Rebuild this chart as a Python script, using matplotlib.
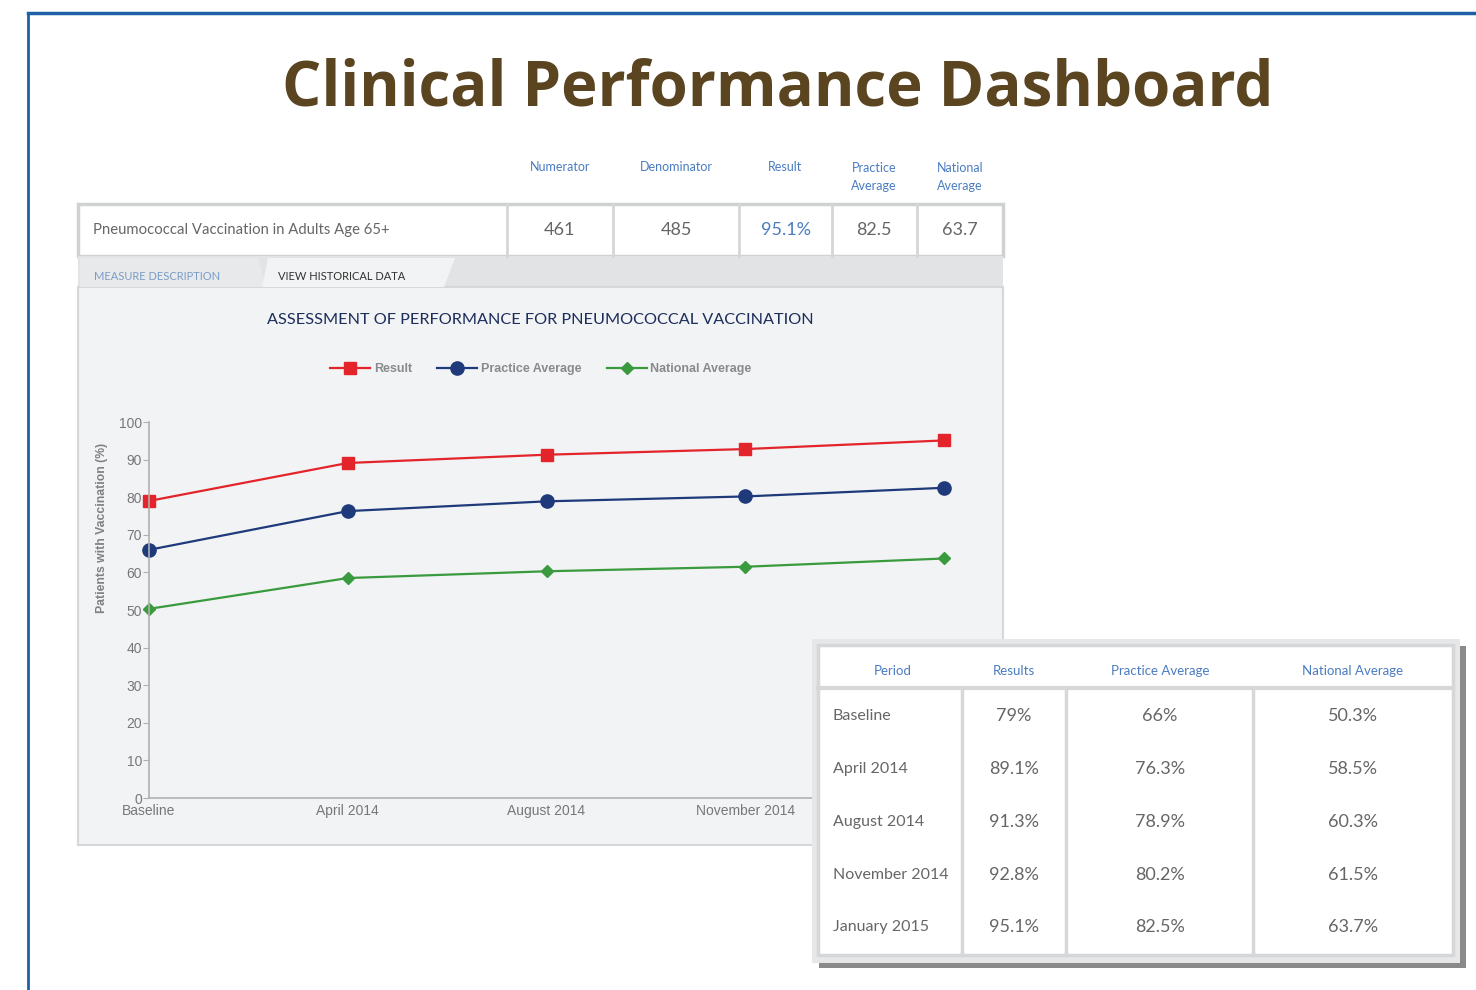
import matplotlib
matplotlib.use('Agg')
import matplotlib.pyplot as plt
from matplotlib.patches import Rectangle, Polygon

# Data
periods = ['Baseline', 'April 2014', 'August 2014', 'November 2014', 'January 2015']
result = [79, 89.1, 91.3, 92.8, 95.1]
practice_avg = [66, 76.3, 78.9, 80.2, 82.5]
national_avg = [50.3, 58.5, 60.3, 61.5, 63.7]

summary_headers = ['Numerator', 'Denominator', 'Result', 'Practice\nAverage', 'National\nAverage']
summary_values = ['461', '485', '95.1%', '82.5', '63.7']
measure_name = 'Pneumococcal Vaccination in Adults Age 65+'
table_headers = ['Period', 'Results', 'Practice Average', 'National Average']

W, H = 1476, 990
UI_FONT = 'Lato'
CHART_FONT = 'Liberation Sans'
BLUE_TXT = '#4a7cc0'
GRAY_TXT = '#666666'

fig = plt.figure(figsize=(W / 100, H / 100), dpi=100)
fig.patch.set_facecolor('white')

# background layer in pixel coordinates
bg = fig.add_axes([0, 0, 1, 1], zorder=0)
bg.set_xlim(0, W)
bg.set_ylim(H, 0)
bg.axis('off')

# outer slide frame
bg.plot([28, W], [13, 13], color='#1f5fa8', lw=2.5)
bg.plot([28, 28], [13, H], color='#1f5fa8', lw=2)

bg.text(778, 106, 'Clinical Performance Dashboard', ha='center', va='baseline',
        fontsize=44.5, fontweight='bold', color='#5a4520', family='Open Sans')

# summary header labels
header_x = [560, 676, 785, 874, 960]
for x, lab in zip(header_x, summary_headers):
    bg.text(x, 167 if '\n' not in lab else 177, lab, ha='center', va='center', fontsize=9,
            color=BLUE_TXT, family=UI_FONT, linespacing=1.6)

# summary row
bg.add_patch(Rectangle((78, 204), 925, 52, facecolor='white', edgecolor='#d0d1d2', lw=2.5))
for x in [507, 613, 739, 832, 917]:
    bg.plot([x, x], [204, 256], color='#d5d6d7', lw=2)
bg.text(93, 230, measure_name, ha='left', va='center', fontsize=10.7, color=GRAY_TXT, family=UI_FONT)
val_x = [559, 676, 786, 874, 960]
for i, (x, v) in enumerate(zip(val_x, summary_values)):
    bg.text(x, 230, v, ha='center', va='center', fontsize=13,
            color=BLUE_TXT if i == 2 else GRAY_TXT, family=UI_FONT)

# tabs strip and chart panel
bg.add_patch(Rectangle((78, 256), 925, 31, facecolor='#e2e3e4', edgecolor='none'))
bg.add_patch(Rectangle((78, 287), 925, 558, facecolor='#f2f3f4', edgecolor='#d6d7d8', lw=1.5))
bg.add_patch(Polygon([(80, 287), (80, 258), (258, 258), (266, 287)], closed=True,
                     facecolor='#e8e9ea', edgecolor='none'))
bg.add_patch(Polygon([(262, 287), (268, 258), (455, 258), (444, 287)], closed=True,
                     facecolor='#f2f3f4', edgecolor='none'))
bg.text(94, 276, 'MEASURE DESCRIPTION', ha='left', va='center', fontsize=8,
        color='#7a9cc8', family=UI_FONT)
bg.text(278, 276, 'VIEW HISTORICAL DATA', ha='left', va='center', fontsize=8,
        color='#333333', family=UI_FONT)

bg.text(540, 320, 'ASSESSMENT OF PERFORMANCE FOR PNEUMOCOCCAL VACCINATION', ha='center',
        va='center', fontsize=11.7, color='#1d2d5c', family=UI_FONT)
bg.text(102, 528, 'Patients with Vaccination (%)', ha='center', va='center', rotation=90,
        fontsize=8.8, fontweight='bold', color='#808080', family=CHART_FONT)

# line chart
x0, x1 = 149, 994
yb, yt = 798, 422
ax = fig.add_axes([x0 / W, 1 - yb / H, (x1 - x0) / W, (yb - yt) / H], zorder=1)
ax.patch.set_visible(False)
xs = list(range(len(periods)))
ax.plot(xs, result, color='#e3242b', lw=1.6, marker='s', ms=9, clip_on=False, label='Result')
ax.plot(xs, practice_avg, color='#1f3a7a', lw=1.6, marker='o', ms=9.5, clip_on=False,
        label='Practice Average')
ax.plot(xs, national_avg, color='#3a9a3e', lw=1.6, marker='D', ms=6.5, clip_on=False,
        label='National Average')
ax.set_xlim(0, (x1 - x0) / 198.75)
ax.set_ylim(0, 100)
ax.set_yticks(range(0, 101, 10))
ax.set_xticks(xs)
ax.set_xticklabels(periods)
for s in ['top', 'right']:
    ax.spines[s].set_visible(False)
for s in ['left', 'bottom']:
    ax.spines[s].set_color('#b0b0b0')
    ax.spines[s].set_linewidth(1.2)
ax.tick_params(axis='y', length=4, color='#b0b0b0', pad=1, labelsize=10, labelcolor='#777777')
ax.tick_params(axis='x', length=0, pad=4, labelsize=10, labelcolor='#777777')
for lab in ax.get_xticklabels() + ax.get_yticklabels():
    lab.set_family(CHART_FONT)

handles, labels = ax.get_legend_handles_labels()
leg = fig.legend(handles, labels, loc='center', bbox_to_anchor=(541 / W, 1 - 369 / H), ncol=3,
                 frameon=False, handlelength=3.2, columnspacing=2.0, handletextpad=0.3,
                 prop={'family': CHART_FONT, 'size': 9, 'weight': 'bold'})
for t in leg.get_texts():
    t.set_color('#8a8a8a')

# historical table overlay
top = fig.add_axes([0, 0, 1, 1], zorder=3)
top.set_xlim(0, W)
top.set_ylim(H, 0)
top.axis('off')
top.add_patch(Rectangle((819, 646), 647, 322, facecolor='#8a8a8a', edgecolor='none'))
top.add_patch(Rectangle((812, 639), 648, 324, facecolor='#e6e7e8', edgecolor='none'))
top.add_patch(Rectangle((818, 645), 635, 310, facecolor='white', edgecolor='#d6d7d8', lw=2.5))
top.plot([818, 1453], [688, 688], color='#d6d7d8', lw=3)
for x in [962, 1066, 1253]:
    top.plot([x, x], [688, 955], color='#d6d7d8', lw=2.5)

col_x = [893, 1014, 1160, 1353]
for x, h in zip(col_x, table_headers):
    top.text(x, 671, h, ha='center', va='center', fontsize=9.5, color=BLUE_TXT, family=UI_FONT)
row_y = [716, 769, 822, 875, 927]
for i, y in enumerate(row_y):
    top.text(833, y, periods[i], ha='left', va='center', fontsize=11.5, color=GRAY_TXT, family=UI_FONT)
    for x, v in zip(col_x[1:], [result[i], practice_avg[i], national_avg[i]]):
        top.text(x, y, f'{v:g}%', ha='center', va='center', fontsize=13, color=GRAY_TXT, family=UI_FONT)

fig.savefig('out.png', dpi=100)
